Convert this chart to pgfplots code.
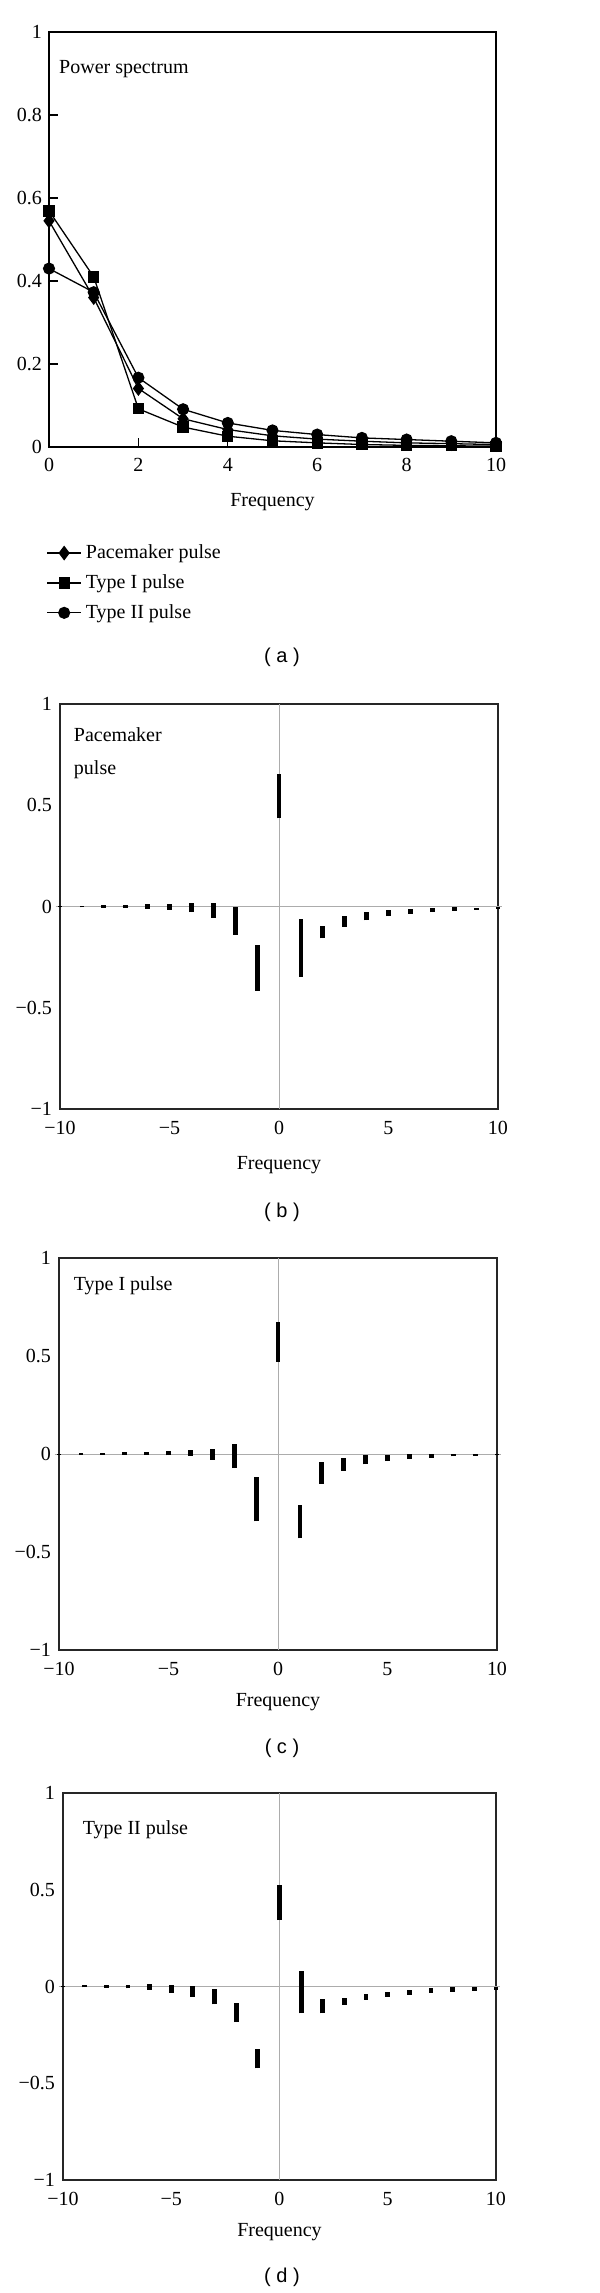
\documentclass[border=0pt]{standalone}
\usepackage{fontspec}
\setmainfont{Liberation Serif}
\setsansfont{Liberation Sans}
\usepackage{pgfplots}
\usepackage{pgfplotstable}
\pgfplotsset{compat=1.18}

% spectral coefficients: each bar runs from lo to hi
\pgfplotstableread{
k lo hi
-10 -0.003 0.003
-9 -0.004 0.003
-8 -0.005 0.007
-7 -0.007 0.008
-6 -0.010 0.012
-5 -0.015 0.013
-4 -0.028 0.015
-3 -0.056 0.015
-2 -0.139 -0.003
-1 -0.417 -0.190
0 0.435 0.655
1 -0.347 -0.061
2 -0.157 -0.096
3 -0.099 -0.048
4 -0.068 -0.028
5 -0.048 -0.018
6 -0.036 -0.012
7 -0.028 -0.007
8 -0.020 -0.003
9 -0.016 -0.005
10 -0.013 -0.003
}\pacemaker

\pgfplotstableread{
k lo hi
-10 -0.002 0.002
-9 -0.003 0.003
-8 -0.003 0.005
-7 -0.003 0.009
-6 -0.003 0.010
-5 -0.007 0.014
-4 -0.010 0.020
-3 -0.029 0.026
-2 -0.072 0.051
-1 -0.344 -0.115
0 0.470 0.672
1 -0.431 -0.258
2 -0.152 -0.039
3 -0.085 -0.022
4 -0.053 -0.007
5 -0.036 -0.003
6 -0.026 0.000
7 -0.019 0.000
8 -0.012 0.000
9 -0.009 0.002
10 -0.007 0.002
}\typeone

\pgfplotstableread{
k lo hi
-10 -0.004 0.004
-9 -0.005 0.007
-8 -0.007 0.009
-7 -0.010 0.010
-6 -0.017 0.012
-5 -0.031 0.009
-4 -0.052 0.005
-3 -0.092 -0.012
-2 -0.184 -0.087
-1 -0.423 -0.325
0 0.343 0.527
1 -0.139 0.078
2 -0.139 -0.064
3 -0.094 -0.059
4 -0.068 -0.038
5 -0.054 -0.026
6 -0.042 -0.016
7 -0.033 -0.009
8 -0.026 -0.005
9 -0.021 -0.003
10 -0.017 -0.002
}\typetwo

\newcommand{\tx}{\fontsize{10}{12}\selectfont}

\pgfplotsset{
  every axis/.append style={scale only axis, anchor=south west, clip=false,
    font=\tx, /pgf/number format/assume math mode=true,
    axis line style={black!85, line width=0.6pt}},
  coef/.style={xmin=-10, xmax=10, ymin=-1, ymax=1,
    xtick={-10,-5,0,5,10}, xticklabels={−10,−5,0,5,10},
    ytick={-1,-0.5,0,0.5,1}, yticklabels={−1,−0.5,0,0.5,1},
    major tick length=0pt,
    xticklabel style={anchor=center, yshift=-9.5pt},
    yticklabel style={xshift=-0.5pt},
    xlabel={Frequency},
    xlabel style={at={(axis description cs:0.5,0)}, anchor=center}},
  zline/.style={gray!65, line width=0.5pt, forget plot},
  bars/.style={only marks, mark=*, mark size=0pt,
    mark options={draw=none, fill=none},
    error bars/.cd, y dir=plus, y explicit, error mark=none,
    error bar style={line width=2.4pt, draw=black, solid}},
  ps/.style={black, line width=0.65pt, solid}
}

\begin{document}
\begin{tikzpicture}
\path (0pt,0pt) rectangle (300pt,-1146.5pt);

% (a) power spectrum
\begin{axis}[at={(24.5pt,-223.5pt)}, width=223.5pt, height=207.5pt,
  xmin=0, xmax=10, ymin=0, ymax=1,
  xtick={0,2,...,10}, xticklabels={0,2,4,6,8,10},
  ytick={0,0.2,0.4,0.6,0.8,1}, yticklabels={0,0.2,0.4,0.6,0.8,1},
  tick align=inside, tick pos=left, major tick length=4.5pt,
  tick style={black, line width=0.6pt},
  axis line style={black, line width=0.75pt},
  xticklabel style={anchor=center, yshift=-9pt},
  xlabel={Frequency},
  xlabel style={at={(axis description cs:0.5,0)}, anchor=center, yshift=-27.5pt},
  legend style={at={(axis description cs:-0.02,-0.215)}, anchor=north west,
    draw=none, fill=none, font=\tx, row sep=2.5pt},
  legend cell align=left]
\addplot[ps, mark=diamond*, mark size=3.2pt] coordinates {
  (0,0.545) (1,0.360) (2,0.141) (3,0.068) (4,0.042) (5,0.027)
  (6,0.019) (7,0.014) (8,0.010) (9,0.008) (10,0.006)};
\addplot[ps, mark=square*, mark size=2.5pt] coordinates {
  (0,0.569) (1,0.410) (2,0.092) (3,0.048) (4,0.026) (5,0.015)
  (6,0.010) (7,0.006) (8,0.004) (9,0.003) (10,0.002)};
\addplot[ps, mark=*, mark size=2.7pt] coordinates {
  (0,0.430) (1,0.373) (2,0.167) (3,0.091) (4,0.058) (5,0.040)
  (6,0.030) (7,0.022) (8,0.018) (9,0.014) (10,0.010)};
\legend{Pacemaker pulse, Type I pulse, Type II pulse}
\node[anchor=base west, inner sep=0pt] at (rel axis cs:0.022,0.899) {Power spectrum};
\end{axis}

% (b) pacemaker pulse
\begin{axis}[coef, at={(30pt,-554.5pt)}, width=219pt, height=202.5pt,
  xlabel style={yshift=-28pt}]
\addplot[zline] coordinates {(0,-1) (0,1)};
\addplot[zline] coordinates {(-10.2,0) (10.2,0)};
\addplot[bars] table[x=k, y=lo, y error plus expr=\thisrow{hi}-\thisrow{lo}] {\pacemaker};
\node[anchor=base west, inner sep=0pt] at (rel axis cs:0.031,0.907) {Pacemaker};
\node[anchor=base west, inner sep=0pt] at (rel axis cs:0.031,0.825) {pulse};
\end{axis}

% (c) type I pulse
\begin{axis}[coef, at={(29.5pt,-825pt)}, width=219pt, height=196pt,
  xlabel style={yshift=-26pt}]
\addplot[zline] coordinates {(0,-1) (0,1)};
\addplot[zline] coordinates {(-10.2,0) (10.2,0)};
\addplot[bars] table[x=k, y=lo, y error plus expr=\thisrow{hi}-\thisrow{lo}] {\typeone};
\node[anchor=base west, inner sep=0pt] at (rel axis cs:0.033,0.918) {Type I pulse};
\end{axis}

% (d) type II pulse
\begin{axis}[coef, at={(31.5pt,-1090pt)}, width=216.5pt, height=193.5pt,
  xlabel style={yshift=-26pt}]
\addplot[zline] coordinates {(0,-1) (0,1)};
\addplot[zline] coordinates {(-10.2,0) (10.2,0)};
\addplot[bars] table[x=k, y=lo, y error plus expr=\thisrow{hi}-\thisrow{lo}] {\typetwo};
\node[anchor=base west, inner sep=0pt] at (rel axis cs:0.045,0.894) {Type II pulse};
\end{axis}

\node[font=\sffamily\tx] at (141pt,-328.5pt) {( a )};
\node[font=\sffamily\tx] at (141pt,-606pt) {( b )};
\node[font=\sffamily\tx] at (141pt,-874pt) {( c )};
\node[font=\sffamily\tx] at (141pt,-1138.5pt) {( d )};
\end{tikzpicture}
\end{document}
